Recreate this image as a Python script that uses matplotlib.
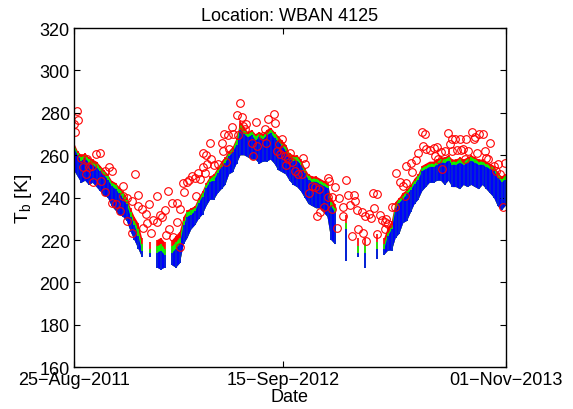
"""
Brightness temperature time series at WBAN 4125:
dense model series (red / green / blue) plus red-circle observations.
"""

import numpy as np
import matplotlib
matplotlib.use("Agg")
import matplotlib.pyplot as plt

plt.rcParams["font.family"] = ["Liberation Sans", "DejaVu Sans"]
plt.rcParams["mathtext.default"] = "regular"

# ---------------------------------------------------------------------
# Data
# ---------------------------------------------------------------------
start = np.datetime64("2011-08-25")
end = np.datetime64("2013-11-01")

# weekly samples of the three model series (K), NaN = no data
week_day = np.arange(0, 799, 7)
nan = np.nan

red_top = [266, 262, 260, 261, 259, 258, 257, 255, 253, 251,
           248, 247, 245, 243, 240, 235, 231, 228, 221, nan,
           219, nan, 220, 221, 219, nan, 220, 222, 224, 231,
           234, 235, 236, 240, 243, 247, 250, 251, 254, 257,
           259, 262, 264, 268, 276, 273, 271, 272, 270, 271,
           270, 272, 273, 271, 269, 267, 265, 261, 260, 260,
           258, 254, 251, 250, 250, 249, 248, 247, 240, 237,
           nan, nan, 232, nan, nan, 221, nan, 221, nan, nan,
           223, nan, 221, 226, 229, 238, 240, 242, 244, 246,
           249, 251, 255, 256, 257, 257, 258, 259, 259, 260,
           258, 258, 259, 258, 259, 260, 259, 258, 258, 257,
           256, 255, 252, 250, 251]

green_top = [265, 261, 259, 260, 258, 257, 256, 254, 252, 250,
             247, 246, 244, 242, 239, 233, 229, 225, 218, nan,
             216, nan, 217, 218, 216, nan, 217, 219, 221, 229,
             233, 234, 235, 239, 242, 246, 249, 250, 253, 256,
             258, 261, 263, 267, 274.5, 272, 270, 271, 269, 270,
             269, 271, 272, 270, 268, 266, 264, 260, 259, 259,
             257, 253, 250, 249, 249, 248, 247, 246, 238, 235,
             nan, nan, 228, nan, nan, 217, nan, 218, nan, nan,
             219, nan, 218, 224, 227, 237, 239, 241, 243, 245,
             248, 250, 254, 255, 256, 256, 257, 258, 258, 259,
             257, 257, 258, 257, 258, 259, 258, 257, 257, 256,
             255, 254, 251, 249, 250]

blue_top = [263.5, 260, 257.5, 258.5, 256.5, 255.5, 254, 252.5, 250.5, 248.5,
            245.5, 244, 242, 240, 237, 231, 227, 222, 215, nan,
            214, nan, 214, 215, 213, nan, 214, 216, 218, 227,
            231, 232, 233.5, 237.5, 240.5, 244.5, 247.5, 248, 251.5, 254.5,
            256.5, 259.5, 261.5, 265, 272, 270, 268.5, 269.5, 267, 268.5,
            267.5, 269.5, 270.5, 268, 266.5, 264.5, 262, 258.5, 257.5, 257.5,
            255.5, 251.5, 248.5, 247.5, 247.5, 246.5, 245.5, 244.5, 236, 233,
            nan, nan, 225, nan, nan, 214, nan, 214, nan, nan,
            216, nan, 216, 222, 225, 235, 237.5, 239.5, 241.5, 243.5,
            246.5, 248.5, 252.5, 253.5, 254.5, 254.5, 255.5, 256.5, 256.5, 257.5,
            255.5, 255.5, 256.5, 255.5, 256.5, 257.5, 256.5, 255.5, 255.5, 254.5,
            253.5, 252.5, 249.5, 247.5, 248.5]

blue_low = [253, 250, 247, 248, 246, 247, 245, 243, 241, 240,
            236, 234, 232, 231, 229, 224, 220, 216, 212, nan,
            212, nan, 207, 206, 207, nan, 208, 207, 209, 218,
            221, 225, 227, 230, 232, 236, 239, 239, 242, 244,
            246, 251, 252, 256, 260, 260, 259, 258, 258, 256,
            257, 257, 258, 256, 253, 252, 251, 248, 246, 245,
            243, 240, 237, 236, 235, 235, 233, 231, 220, 218,
            nan, nan, 210, nan, nan, 212, nan, 207, nan, nan,
            211, nan, 213, 215, 215, 221, 223, 228, 229, 233,
            237, 239, 243, 245, 247, 247, 248, 248, 246, 248,
            245, 245, 244, 246, 245, 246, 245, 244, 246, 244,
            242, 240, 236, 234, 236]

# observations: days since 25-Aug-2011 and Tb (K)
obs_day = [6, 8, 0, 2, 14, 25, 41, 49, 17, 27, 33, 22, 36, 51, 57, 65, 71, 57,
           70, 78, 86, 91, 91, 99, 107, 113, 119, 119, 125, 133, 139, 99, 107,
           128, 135, 142, 147, 154, 160, 154, 162, 168, 174, 181, 190, 196, 191,
           176, 171, 184, 197, 202, 204, 210, 213, 218, 224, 230, 226, 233, 238,
           242, 247, 253, 259, 239, 245, 252, 267, 273, 275, 277, 281, 285, 287,
           295, 292, 301, 308, 310, 313, 319, 304, 316, 329, 331, 338, 337, 350,
           353, 356, 359,
           370, 372, 384, 380, 376, 381, 386, 390, 400, 393, 403, 396, 409, 415,
           421, 424, 427, 435, 440, 446, 454, 449, 456, 462, 469, 472, 483, 470,
           477, 477, 486, 491, 498, 497, 504, 506, 511, 514, 518, 520, 524, 526,
           532, 535, 538, 541, 546, 549, 554, 560, 555, 561, 566, 569, 575, 578,
           575, 581, 588, 594, 596, 603, 609, 615, 612, 615, 623, 625, 633, 637,
           643, 649, 646, 652, 658, 665, 671, 668, 674, 678, 680, 686, 692, 695,
           700, 699, 705, 708, 714, 715, 720, 723, 726, 729, 736, 739, 742, 745,
           750, 756, 760, 763, 769, 766, 776, 785, 781, 788, 793, 797]
obs_tb = [280.7, 276.6, 274.7, 271.1, 258.5, 258.2, 260.5, 261.0, 254.3, 254.3,
          255.0, 251.1, 247.2, 248.0, 252.7, 254.3, 252.7, 242.8, 237.7, 236.9,
          233.8, 245.3, 240.6, 239.6, 238.5, 251.1, 241.2, 236.2, 234.6, 232.2,
          236.8, 229.1, 223.1, 225.9, 228.0, 223.1, 229.6, 228.6, 231.8, 240.6,
          230.7, 234.3, 242.9, 237.4, 237.4, 234.6, 228.3, 225.2, 222.5, 221.2,
          216.8, 246.7, 242.5, 247.5, 248.3, 250.3, 249.1, 251.6, 240.6, 248.7,
          254.3, 251.6, 255.8, 258.2, 255.4, 261.0, 260.1, 265.7, 255.8, 266.0,
          262.1, 270.0, 256.6, 269.5, 262.9, 270.0, 273.1, 279.0, 284.5, 277.9,
          273.9, 274.7, 269.5, 272.3, 266.0, 259.8, 264.5, 275.5, 269.2, 272.3,
          266.0, 277.1,
          279.4, 275.2, 267.6, 265.2, 262.1, 260.5, 262.9, 259.7, 261.3, 255.3,
          256.6, 258.2, 252.7, 251.1, 251.1, 258.9, 255.8, 242.4, 245.6, 244.8,
          244.0, 231.4, 233.0, 235.8, 249.5, 247.9, 244.8, 240.1, 240.1, 234.6,
          225.9, 239.6, 231.4, 235.4, 248.4, 241.2, 236.5, 222.0, 241.2, 238.5,
          234.3, 225.1, 233.0, 223.2, 231.4, 219.6, 232.2, 230.2, 242.4, 241.5,
          234.9, 222.8, 231.7, 229.5, 228.3, 229.9, 225.1, 227.5, 235.4, 235.4,
          251.6, 247.5, 245.3, 246.8, 240.9, 255.0, 256.3, 251.9, 257.8, 261.3,
          271.1, 270.0, 264.5, 262.9, 262.6, 263.2, 263.7, 259.7, 258.2, 261.6,
          253.4, 262.1, 270.4, 265.2, 262.1, 267.6, 267.9, 262.6, 267.9, 262.6,
          262.9, 258.2, 267.6, 262.1, 270.8, 267.9, 268.4, 261.3, 270.0, 270.0,
          262.1, 258.9, 266.0, 258.2, 255.0, 255.8, 252.7, 251.0, 235.4, 256.3]

tick_dates = ["2011-08-25", "2012-09-15", "2013-11-01"]
tick_labels = ["25\u2212Aug\u22122011", "15\u2212Sep\u22122012", "01\u2212Nov\u22122013"]

# ---------------------------------------------------------------------
# Plot
# ---------------------------------------------------------------------
week_dates = (start + week_day.astype("timedelta64[D]")).astype("datetime64[D]")
obs_dates = start + np.array(obs_day).astype("timedelta64[D]")

fig = plt.figure(figsize=(5.73, 4.10), dpi=100)
ax = fig.add_axes([0.129, 0.102, 0.754, 0.827])

# body of each series, then thin streaks so isolated days still show
series = [(red_top, (1, 0, 0)), (green_top, (0, 1, 0)), (blue_top, (0, 0, 1))]
for top, col in series:
    ax.fill_between(week_dates, blue_low, top, color=col, linewidth=0)
    ax.vlines(week_dates, blue_low, top, color=col, linewidth=1.2)

ax.plot(obs_dates, obs_tb, "o", markerfacecolor="none",
        markeredgecolor=(1, 0, 0), markersize=5.5, markeredgewidth=0.8)

ax.set_xlim(start, end)
ax.set_ylim(160, 320)
ax.set_yticks(np.arange(160, 321, 20))
ax.set_xticks(np.array(tick_dates, dtype="datetime64[D]"))
ax.set_xticklabels(tick_labels)

ax.tick_params(direction="in", top=True, right=True, length=4,
               width=0.8, labelsize=13, pad=3)
for s in ax.spines.values():
    s.set_linewidth(1.0)

ax.set_title("Location: WBAN 4125", fontsize=13, pad=6)
ax.set_xlabel("Date", fontsize=13, labelpad=0)
ax.set_ylabel("T$_b$ [K]", fontsize=14, labelpad=4)

fig.savefig("out.png", dpi=100)
